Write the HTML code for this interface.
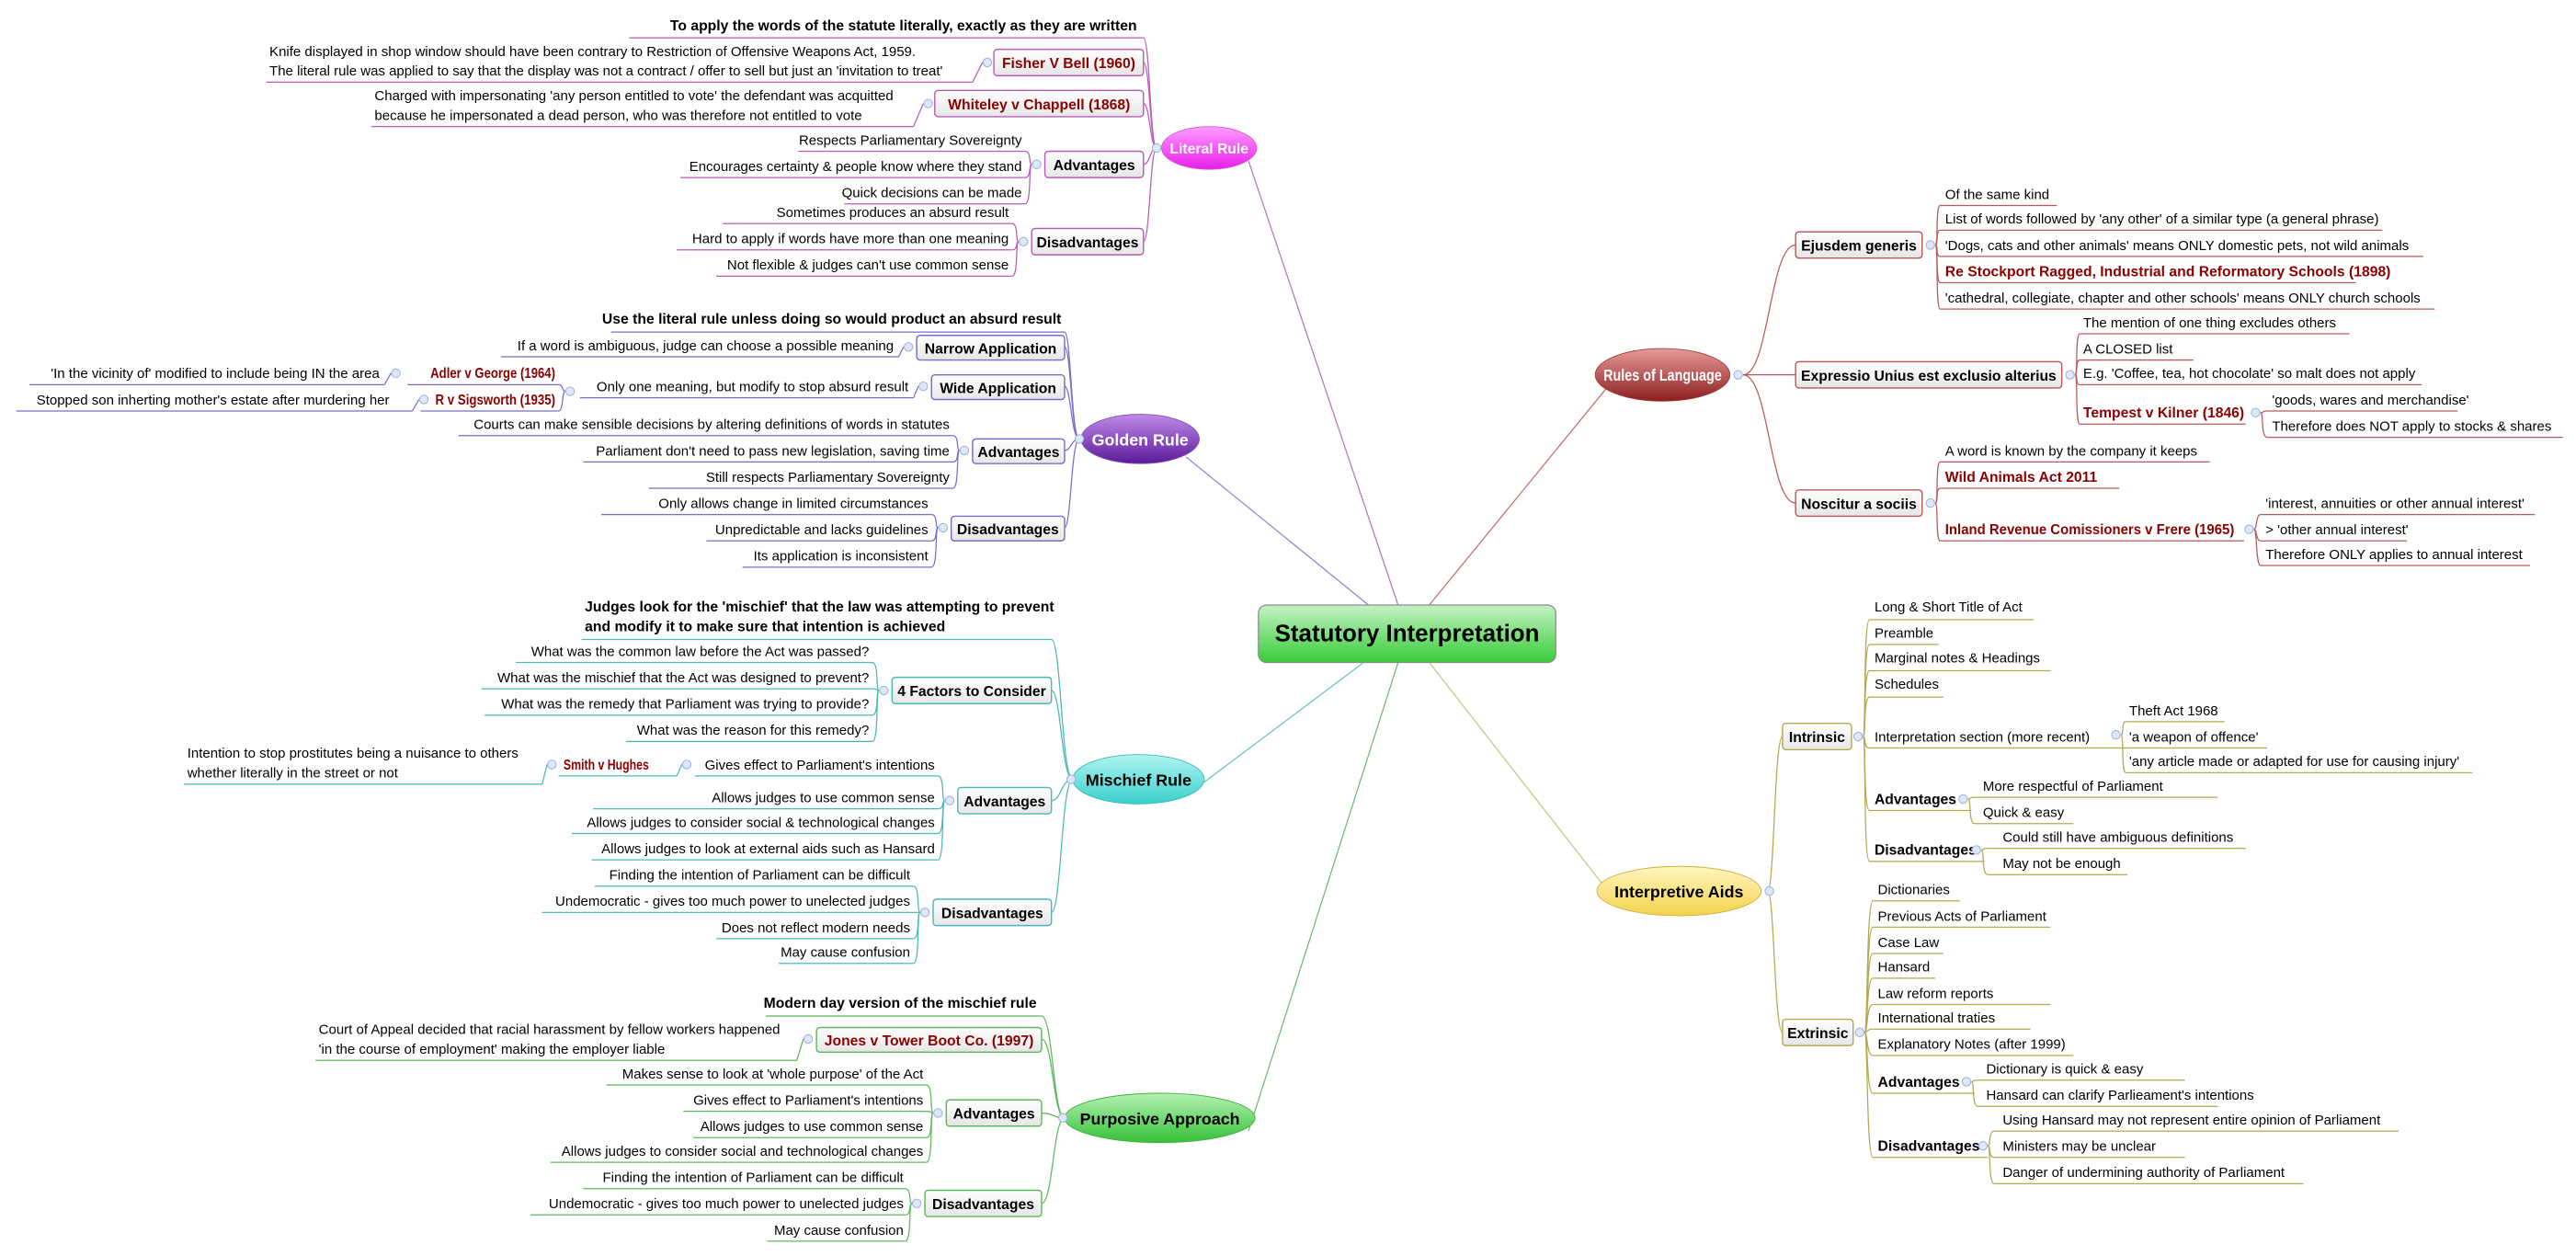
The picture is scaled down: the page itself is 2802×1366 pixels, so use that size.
<!DOCTYPE html>
<html><head><meta charset="utf-8"><style>
html,body{margin:0;padding:0;background:#fff;}
svg{display:block}
text{font-family:"Liberation Sans",sans-serif;font-size:8.4px;fill:#000}
.b{font-weight:bold;font-size:8.8px}
.r{font-weight:bold;font-size:8.8px;fill:#8b0000}
.bx{fill:url(#gb);stroke-width:0.8}
.c{fill:#dfe8f8;stroke:#9fb4dc;stroke-width:0.6}
path,line{fill:none;stroke-width:0.7}
.L path,.L line,.L .bx{stroke:#b85cb8}
.G path,.G line,.G .bx{stroke:#7a6cc8}
.M path,.M line,.M .bx{stroke:#4bb8b8}
.P path,.P line,.P .bx{stroke:#5cb85c}
.R path,.R line,.R .bx{stroke:#b85a5a}
.A path,.A line,.A .bx{stroke:#b0aa50}
</style></head><body>
<svg width="2802" height="1366" viewBox="0 0 1568 764" preserveAspectRatio="none" xmlns="http://www.w3.org/2000/svg">
<defs>
<linearGradient id="gb" x1="0" y1="0" x2="0" y2="1"><stop offset="0" stop-color="#ffffff"/><stop offset="1" stop-color="#e6e6e6"/></linearGradient>
<linearGradient id="gc" x1="0" y1="0" x2="0" y2="1"><stop offset="0" stop-color="#c4f2c4"/><stop offset="1" stop-color="#38cc38"/></linearGradient>
<linearGradient id="gL" x1="0" y1="0" x2="0" y2="1"><stop offset="0" stop-color="#ff9cff"/><stop offset="1" stop-color="#e81ee8"/></linearGradient>
<linearGradient id="gG" x1="0" y1="0" x2="0" y2="1"><stop offset="0" stop-color="#c08ae8"/><stop offset="1" stop-color="#5a1a9a"/></linearGradient>
<linearGradient id="gM" x1="0" y1="0" x2="0" y2="1"><stop offset="0" stop-color="#b0f4f0"/><stop offset="1" stop-color="#3ad0cc"/></linearGradient>
<linearGradient id="gP" x1="0" y1="0" x2="0" y2="1"><stop offset="0" stop-color="#b4f2b4"/><stop offset="1" stop-color="#36c036"/></linearGradient>
<linearGradient id="gR" x1="0" y1="0" x2="0" y2="1"><stop offset="0" stop-color="#e89a9a"/><stop offset="1" stop-color="#8c1e1e"/></linearGradient>
<linearGradient id="gA" x1="0" y1="0" x2="0" y2="1"><stop offset="0" stop-color="#fff6c0"/><stop offset="1" stop-color="#f2d24a"/></linearGradient>
</defs>

<line x1="851" y1="368" x2="760" y2="98" stroke="#c070c0" stroke-width="0.7"/>
<line x1="833" y1="368" x2="722" y2="278" stroke="#8c84d4" stroke-width="0.7"/>
<line x1="830" y1="403" x2="730" y2="478" stroke="#6cc4c4" stroke-width="0.7"/>
<line x1="851" y1="403" x2="760" y2="688" stroke="#6cbc6c" stroke-width="0.7"/>
<line x1="870" y1="368" x2="978" y2="236" stroke="#c07070" stroke-width="0.7"/>
<line x1="870" y1="403" x2="985" y2="550" stroke="#c8c488" stroke-width="0.7"/>

<rect x="766" y="368" width="181" height="35" rx="5" fill="url(#gc)" stroke="#8a8a8a" stroke-width="0.7"/>
<text x="856.5" y="390" text-anchor="middle" style="font-weight:bold;font-size:14.5px">Statutory Interpretation</text>

<!-- LITERAL -->
<g class="L">
<path d="M704 90 C700 90 700 23 696 23"/>
<path d="M704 90 C700 90 700 38 696 38"/>
<path d="M704 90 C700 90 700 63 696 63"/>
<path d="M704 90 C700 90 700 100 696 100"/>
<path d="M704 90 C700 90 700 147 696 147"/>
<ellipse cx="736" cy="90" rx="29" ry="13" fill="url(#gL)" stroke="#d060d0" stroke-width="0.5"/>
<text x="736" y="93.5" text-anchor="middle" class="b" style="fill:#fff">Literal Rule</text>
<circle class="c" cx="704" cy="90" r="2.6"/>
<text x="692" y="18.5" text-anchor="end" class="b">To apply the words of the statute literally, exactly as they are written</text>
<line x1="383" y1="23" x2="696" y2="23"/>
<rect class="bx" x="605" y="30" width="91" height="16" rx="2"/>
<text x="650.5" y="41.5" text-anchor="middle" class="r">Fisher V Bell (1960)</text>
<circle class="c" cx="601" cy="38" r="2.6"/>
<text x="164" y="34">Knife displayed in shop window should have been contrary to Restriction of Offensive Weapons Act, 1959.</text>
<text x="164" y="46">The literal rule was applied to say that the display was not a contract / offer to sell but just an 'invitation to treat'</text>
<line x1="162" y1="50" x2="592" y2="50"/><path d="M592 50 L598 38"/>
<rect class="bx" x="569" y="55" width="127" height="16" rx="2"/>
<text x="632.5" y="66.5" text-anchor="middle" class="r">Whiteley v Chappell (1868)</text>
<circle class="c" cx="565" cy="63" r="2.6"/>
<text x="228" y="61">Charged with impersonating 'any person entitled to vote' the defendant was acquitted</text>
<text x="228" y="73">because he impersonated a dead person, who was therefore not entitled to vote</text>
<line x1="226" y1="77" x2="556" y2="77"/><path d="M556 77 L562 63"/>
<rect class="bx" x="636" y="92" width="60" height="16" rx="2"/>
<text x="666" y="103.5" text-anchor="middle" class="b">Advantages</text>
<circle class="c" cx="631" cy="100" r="2.6"/>
<path d="M628 100 C626 100 628 92 624 92"/><path d="M628 100 C626 100 628 108 624 108"/><path d="M628 100 C626 100 628 124 624 124"/>
<text x="622" y="88" text-anchor="end">Respects Parliamentary Sovereignty</text><line x1="486" y1="92" x2="624" y2="92"/>
<text x="622" y="104" text-anchor="end">Encourages certainty &amp; people know where they stand</text><line x1="414" y1="108" x2="624" y2="108"/>
<text x="622" y="120" text-anchor="end">Quick decisions can be made</text><line x1="514" y1="124" x2="624" y2="124"/>
<rect class="bx" x="628" y="139" width="68" height="16" rx="2"/>
<text x="662" y="150.5" text-anchor="middle" class="b">Disadvantages</text>
<circle class="c" cx="623" cy="147" r="2.6"/>
<path d="M620 147 C618 147 620 136 616 136"/><path d="M620 147 C618 147 620 152 616 152"/><path d="M620 147 C618 147 620 168 616 168"/>
<text x="614" y="132" text-anchor="end">Sometimes produces an absurd result</text><line x1="440" y1="136" x2="616" y2="136"/>
<text x="614" y="148" text-anchor="end">Hard to apply if words have more than one meaning</text><line x1="412" y1="152" x2="616" y2="152"/>
<text x="614" y="164" text-anchor="end">Not flexible &amp; judges can't use common sense</text><line x1="436" y1="168" x2="616" y2="168"/>
</g>

<!-- GOLDEN -->
<g class="G">
<path d="M657 267 C652 267 652 202 648 202"/>
<path d="M657 267 C652 267 652 211 648 211"/>
<path d="M657 267 C652 267 652 235 648 235"/>
<path d="M657 267 C652 267 652 274 648 274"/>
<path d="M657 267 C652 267 652 321 648 321"/>
<ellipse cx="694" cy="267" rx="36" ry="15" fill="url(#gG)" stroke="#8050b0" stroke-width="0.5"/>
<text x="694" y="271" text-anchor="middle" class="b" style="fill:#fff;font-size:10px">Golden Rule</text>
<circle class="c" cx="657" cy="267" r="2.6"/>
<text x="646" y="197" text-anchor="end" class="b">Use the literal rule unless doing so would product an absurd result</text>
<line x1="372" y1="202" x2="648" y2="202"/>
<rect class="bx" x="558" y="204" width="90" height="15" rx="2"/>
<text x="603" y="215" text-anchor="middle" class="b">Narrow Application</text>
<circle class="c" cx="553" cy="211" r="2.6"/>
<text x="544" y="213" text-anchor="end">If a word is ambiguous, judge can choose a possible meaning</text>
<line x1="305" y1="217" x2="547" y2="217"/><path d="M547 217 L550 211"/>
<rect class="bx" x="567" y="228" width="81" height="15" rx="2"/>
<text x="607.5" y="239" text-anchor="middle" class="b">Wide Application</text>
<circle class="c" cx="562" cy="235" r="2.6"/>
<text x="553" y="238" text-anchor="end">Only one meaning, but modify to stop absurd result</text>
<line x1="353" y1="242" x2="556" y2="242"/><path d="M556 242 L559 235"/>
<circle class="c" cx="347" cy="238" r="2.6"/>
<path d="M344 238 C342 238 343 234 340 234"/><path d="M344 238 C342 238 343 250 340 250"/>
<text x="262" y="230" class="r" textLength="76" lengthAdjust="spacingAndGlyphs">Adler v George (1964)</text><line x1="248" y1="234" x2="340" y2="234"/>
<circle class="c" cx="241" cy="227" r="2.6"/>
<text x="231" y="230" text-anchor="end">'In the vicinity of' modified to include being IN the area</text>
<line x1="18" y1="234" x2="234" y2="234"/><path d="M234 234 L238 227"/>
<text x="265" y="246" class="r" textLength="73" lengthAdjust="spacingAndGlyphs">R v Sigsworth (1935)</text><line x1="256" y1="250" x2="340" y2="250"/>
<circle class="c" cx="258" cy="243" r="2.6"/>
<text x="237" y="246" text-anchor="end">Stopped son inherting mother's estate after murdering her</text>
<line x1="10" y1="250" x2="251" y2="250"/><path d="M251 250 L255 243"/>
<rect class="bx" x="592" y="267" width="56" height="15" rx="2"/>
<text x="620" y="278" text-anchor="middle" class="b">Advantages</text>
<circle class="c" cx="587" cy="274" r="2.6"/>
<path d="M584 274 C582 274 584 265 580 265"/><path d="M584 274 C582 274 584 281 580 281"/><path d="M584 274 C582 274 584 297 580 297"/>
<text x="578" y="261" text-anchor="end">Courts can make sensible decisions by altering definitions of words in statutes</text><line x1="279" y1="265" x2="580" y2="265"/>
<text x="578" y="277" text-anchor="end">Parliament don't need to pass new legislation, saving time</text><line x1="355" y1="281" x2="580" y2="281"/>
<text x="578" y="293" text-anchor="end">Still respects Parliamentary Sovereignty</text><line x1="395" y1="297" x2="580" y2="297"/>
<rect class="bx" x="579" y="314" width="69" height="15" rx="2"/>
<text x="613.5" y="325" text-anchor="middle" class="b">Disadvantages</text>
<circle class="c" cx="574" cy="321" r="2.6"/>
<path d="M571 321 C569 321 571 313 567 313"/><path d="M571 321 C569 321 571 329 567 329"/><path d="M571 321 C569 321 571 345 567 345"/>
<text x="565" y="309" text-anchor="end">Only allows change in limited circumstances</text><line x1="366" y1="313" x2="567" y2="313"/>
<text x="565" y="325" text-anchor="end">Unpredictable and lacks guidelines</text><line x1="430" y1="329" x2="567" y2="329"/>
<text x="565" y="341" text-anchor="end">Its application is inconsistent</text><line x1="452" y1="345" x2="567" y2="345"/>
</g>

<!-- MISCHIEF -->
<g class="M">
<path d="M653 474 C646 474 646 389 640 389"/>
<path d="M653 474 C646 474 646 420 640 420"/>
<path d="M653 474 C646 474 646 487 640 487"/>
<path d="M653 474 C646 474 646 555 640 555"/>
<ellipse cx="693" cy="474" rx="40" ry="15" fill="url(#gM)" stroke="#40b8b8" stroke-width="0.5"/>
<text x="693" y="478" text-anchor="middle" class="b" style="font-size:10px">Mischief Rule</text>
<circle class="c" cx="652" cy="474" r="2.6"/>
<text x="356" y="372" class="b">Judges look for the 'mischief' that the law was attempting to prevent</text>
<text x="356" y="384" class="b">and modify it to make sure that intention is achieved</text>
<line x1="354" y1="389" x2="640" y2="389"/>
<rect class="bx" x="543" y="412" width="97" height="16" rx="2"/>
<text x="591.5" y="423.5" text-anchor="middle" class="b">4 Factors to Consider</text>
<circle class="c" cx="538" cy="420" r="2.6"/>
<path d="M535 420 C533 420 535 403 531 403"/><path d="M535 420 C533 420 535 419 531 419"/><path d="M535 420 C533 420 535 435 531 435"/><path d="M535 420 C533 420 535 451 531 451"/>
<text x="529" y="399" text-anchor="end">What was the common law before the Act was passed?</text><line x1="314" y1="403" x2="531" y2="403"/>
<text x="529" y="415" text-anchor="end">What was the mischief that the Act was designed to prevent?</text><line x1="293" y1="419" x2="531" y2="419"/>
<text x="529" y="431" text-anchor="end">What was the remedy that Parliament was trying to provide?</text><line x1="295" y1="435" x2="531" y2="435"/>
<text x="529" y="447" text-anchor="end">What was the reason for this remedy?</text><line x1="381" y1="451" x2="531" y2="451"/>
<rect class="bx" x="583" y="479" width="57" height="16" rx="2"/>
<text x="611.5" y="490.5" text-anchor="middle" class="b">Advantages</text>
<circle class="c" cx="578" cy="487" r="2.6"/>
<path d="M575 487 C573 487 575 472 571 472"/><path d="M575 487 C573 487 575 492 571 492"/><path d="M575 487 C573 487 575 507 571 507"/><path d="M575 487 C573 487 575 523 571 523"/>
<text x="569" y="468" text-anchor="end">Gives effect to Parliament's intentions</text><line x1="423" y1="472" x2="571" y2="472"/>
<circle class="c" cx="418" cy="465" r="2.6"/><path d="M415 465 L412 472"/>
<text x="343" y="468" class="r" textLength="52" lengthAdjust="spacingAndGlyphs">Smith v Hughes</text><line x1="340" y1="472" x2="412" y2="472"/>
<circle class="c" cx="336" cy="465" r="2.6"/><path d="M333 465 L330 477"/>
<text x="114" y="461">Intention to stop prostitutes being a nuisance to others</text>
<text x="114" y="473">whether literally in the street or not</text>
<line x1="112" y1="477" x2="330" y2="477"/>
<text x="569" y="488" text-anchor="end">Allows judges to use common sense</text><line x1="361" y1="492" x2="571" y2="492"/>
<text x="569" y="503" text-anchor="end">Allows judges to consider social &amp; technological changes</text><line x1="348" y1="507" x2="571" y2="507"/>
<text x="569" y="519" text-anchor="end">Allows judges to look at external aids such as Hansard</text><line x1="360" y1="523" x2="571" y2="523"/>
<rect class="bx" x="568" y="547" width="72" height="16" rx="2"/>
<text x="604" y="558.5" text-anchor="middle" class="b">Disadvantages</text>
<circle class="c" cx="563" cy="555" r="2.6"/>
<path d="M560 555 C558 555 560 539 556 539"/><path d="M560 555 C558 555 560 555 556 555"/><path d="M560 555 C558 555 560 571 556 571"/><path d="M560 555 C558 555 560 586 556 586"/>
<text x="554" y="535" text-anchor="end">Finding the intention of Parliament can be difficult</text><line x1="362" y1="539" x2="556" y2="539"/>
<text x="554" y="551" text-anchor="end">Undemocratic - gives too much power to unelected judges</text><line x1="330" y1="555" x2="556" y2="555"/>
<text x="554" y="567" text-anchor="end">Does not reflect modern needs</text><line x1="436" y1="571" x2="556" y2="571"/>
<text x="554" y="582" text-anchor="end">May cause confusion</text><line x1="474" y1="586" x2="556" y2="586"/>
</g>

<!-- PURPOSIVE -->
<g class="P">
<path d="M648 680 C641 680 641 618 634 618"/>
<path d="M648 680 C641 680 641 632 634 632"/>
<path d="M648 680 C641 680 641 677 634 677"/>
<path d="M648 680 C641 680 641 732 634 732"/>
<ellipse cx="706" cy="680" rx="58" ry="15" fill="url(#gP)" stroke="#40b040" stroke-width="0.5"/>
<text x="706" y="684" text-anchor="middle" class="b" style="font-size:10px">Purposive Approach</text>
<circle class="c" cx="647" cy="680" r="2.6"/>
<text x="631" y="613" text-anchor="end" class="b">Modern day version of the mischief rule</text>
<line x1="466" y1="618" x2="634" y2="618"/>
<rect class="bx" x="497" y="625" width="137" height="15" rx="2"/>
<text x="565.5" y="636" text-anchor="middle" class="r">Jones v Tower Boot Co. (1997)</text>
<circle class="c" cx="492" cy="632" r="2.6"/>
<text x="194" y="629">Court of Appeal decided that racial harassment by fellow workers happened</text>
<text x="194" y="641">'in the course of employment' making the employer liable</text>
<line x1="192" y1="645" x2="485" y2="645"/><path d="M485 645 L489 632"/>
<rect class="bx" x="576" y="669" width="58" height="16" rx="2"/>
<text x="605" y="680.5" text-anchor="middle" class="b">Advantages</text>
<circle class="c" cx="571" cy="677" r="2.6"/>
<path d="M568 677 C566 677 568 660 564 660"/><path d="M568 677 C566 677 568 676 564 676"/><path d="M568 677 C566 677 568 692 564 692"/><path d="M568 677 C566 677 568 707 564 707"/>
<text x="562" y="656" text-anchor="end">Makes sense to look at 'whole purpose' of the Act</text><line x1="369" y1="660" x2="564" y2="660"/>
<text x="562" y="672" text-anchor="end">Gives effect to Parliament's intentions</text><line x1="416" y1="676" x2="564" y2="676"/>
<text x="562" y="688" text-anchor="end">Allows judges to use common sense</text><line x1="422" y1="692" x2="564" y2="692"/>
<text x="562" y="703" text-anchor="end">Allows judges to consider social and technological changes</text><line x1="335" y1="707" x2="564" y2="707"/>
<rect class="bx" x="563" y="724" width="71" height="16" rx="2"/>
<text x="598.5" y="735.5" text-anchor="middle" class="b">Disadvantages</text>
<circle class="c" cx="558" cy="732" r="2.6"/>
<path d="M555 732 C553 732 555 723 551 723"/><path d="M555 732 C553 732 555 739 551 739"/><path d="M555 732 C553 732 555 755 551 755"/>
<text x="550" y="719" text-anchor="end">Finding the intention of Parliament can be difficult</text><line x1="355" y1="723" x2="551" y2="723"/>
<text x="550" y="735" text-anchor="end">Undemocratic - gives too much power to unelected judges</text><line x1="323" y1="739" x2="551" y2="739"/>
<text x="550" y="751" text-anchor="end">May cause confusion</text><line x1="467" y1="755" x2="551" y2="755"/>
</g>

<!-- RULES OF LANGUAGE -->
<g class="R">
<path d="M1061 228 C1077 228 1077 149 1093 149"/>
<path d="M1061 228 L1093 228"/>
<path d="M1061 228 C1077 228 1077 306 1093 306"/>
<ellipse cx="1012" cy="228" rx="41" ry="16" fill="url(#gR)" stroke="#a04040" stroke-width="0.5"/>
<text x="1012" y="231.5" text-anchor="middle" class="b" style="fill:#fff;font-size:10px" textLength="72" lengthAdjust="spacingAndGlyphs">Rules of Language</text>
<circle class="c" cx="1058" cy="228" r="2.6"/>
<rect class="bx" x="1093" y="141" width="77" height="16" rx="2"/>
<text x="1131.5" y="152.5" text-anchor="middle" class="b">Ejusdem generis</text>
<circle class="c" cx="1175" cy="149" r="2.6"/>
<path d="M1178 149 C1180 149 1178 125 1181 125"/><path d="M1178 149 C1180 149 1178 140 1181 140"/><path d="M1178 149 C1180 149 1178 156 1181 156"/><path d="M1178 149 C1180 149 1178 172 1181 172"/><path d="M1178 149 C1180 149 1178 188 1181 188"/>
<text x="1184" y="121">Of the same kind</text><line x1="1181" y1="125" x2="1252" y2="125"/>
<text x="1184" y="136">List of words followed by 'any other' of a similar type (a general phrase)</text><line x1="1181" y1="140" x2="1450" y2="140"/>
<text x="1184" y="152">'Dogs, cats and other animals' means ONLY domestic pets, not wild animals</text><line x1="1181" y1="156" x2="1475" y2="156"/>
<text x="1184" y="168" class="r">Re Stockport Ragged, Industrial and Reformatory Schools (1898)</text><line x1="1181" y1="172" x2="1434" y2="172"/>
<text x="1184" y="184">'cathedral, collegiate, chapter and other schools' means ONLY church schools</text><line x1="1181" y1="188" x2="1482" y2="188"/>
<rect class="bx" x="1093" y="220" width="162" height="16" rx="2"/>
<text x="1174" y="231.5" text-anchor="middle" class="b">Expressio Unius est exclusio alterius</text>
<circle class="c" cx="1260" cy="228" r="2.6"/>
<path d="M1263 228 C1265 228 1263 203 1266 203"/><path d="M1263 228 C1265 228 1263 219 1266 219"/><path d="M1263 228 C1265 228 1263 234 1266 234"/><path d="M1263 228 C1265 228 1263 258 1266 258"/>
<text x="1268" y="199">The mention of one thing excludes others</text><line x1="1266" y1="203" x2="1430" y2="203"/>
<text x="1268" y="215">A CLOSED list</text><line x1="1266" y1="219" x2="1335" y2="219"/>
<text x="1268" y="230">E.g. 'Coffee, tea, hot chocolate' so malt does not apply</text><line x1="1266" y1="234" x2="1474" y2="234"/>
<text x="1268" y="254" class="r">Tempest v Kilner (1846)</text><line x1="1266" y1="258" x2="1367" y2="258"/>
<circle class="c" cx="1373" cy="251" r="2.6"/>
<path d="M1376 251 C1378 251 1377 250 1380 250"/><path d="M1376 251 C1378 251 1376 266 1380 266"/>
<text x="1383" y="246">'goods, wares and merchandise'</text><line x1="1380" y1="250" x2="1496" y2="250"/>
<text x="1383" y="262">Therefore does NOT apply to stocks &amp; shares</text><line x1="1380" y1="266" x2="1560" y2="266"/>
<rect class="bx" x="1093" y="298" width="77" height="16" rx="2"/>
<text x="1131.5" y="309.5" text-anchor="middle" class="b">Noscitur a sociis</text>
<circle class="c" cx="1175" cy="306" r="2.6"/>
<path d="M1178 306 C1180 306 1178 281 1181 281"/><path d="M1178 306 C1180 306 1178 297 1181 297"/><path d="M1178 306 C1180 306 1178 329 1181 329"/>
<text x="1184" y="277">A word is known by the company it keeps</text><line x1="1181" y1="281" x2="1345" y2="281"/>
<text x="1184" y="293" class="r">Wild Animals Act 2011</text><line x1="1181" y1="297" x2="1290" y2="297"/>
<text x="1184" y="325" class="r" textLength="176" lengthAdjust="spacingAndGlyphs">Inland Revenue Comissioners v Frere (1965)</text><line x1="1181" y1="329" x2="1366" y2="329"/>
<circle class="c" cx="1369" cy="322" r="2.6"/>
<path d="M1372 322 C1374 322 1373 313 1376 313"/><path d="M1372 322 C1374 322 1373 329 1376 329"/><path d="M1372 322 C1374 322 1373 344 1376 344"/>
<text x="1379" y="309">'interest, annuities or other annual interest'</text><line x1="1376" y1="313" x2="1543" y2="313"/>
<text x="1379" y="325">&gt; 'other annual interest'</text><line x1="1376" y1="329" x2="1465" y2="329"/>
<text x="1379" y="340">Therefore ONLY applies to annual interest</text><line x1="1376" y1="344" x2="1540" y2="344"/>
</g>

<!-- INTERPRETIVE AIDS -->
<g class="A">
<path d="M1076 542 C1080 542 1080 448 1085 448"/>
<path d="M1076 542 C1080 542 1080 628 1085 628"/>
<ellipse cx="1022" cy="542" rx="50" ry="15" fill="url(#gA)" stroke="#d0b040" stroke-width="0.5"/>
<text x="1022" y="546" text-anchor="middle" class="b" style="font-size:10px">Interpretive Aids</text>
<circle class="c" cx="1077" cy="542" r="2.6"/>
<rect class="bx" x="1085" y="440" width="42" height="16" rx="2"/>
<text x="1106" y="451.5" text-anchor="middle" class="b">Intrinsic</text>
<circle class="c" cx="1131" cy="448" r="2.6"/>
<path d="M1134 448 C1136 448 1134 377 1138 377"/><path d="M1134 448 C1136 448 1134 392 1138 392"/><path d="M1134 448 C1136 448 1134 408 1138 408"/><path d="M1134 448 C1136 448 1134 424 1138 424"/><path d="M1134 448 C1136 448 1134 455 1138 455"/><path d="M1134 448 C1136 448 1134 493 1138 493"/><path d="M1134 448 C1136 448 1134 524 1138 524"/>
<text x="1141" y="372">Long &amp; Short Title of Act</text><line x1="1138" y1="377" x2="1238" y2="377"/>
<text x="1141" y="388">Preamble</text><line x1="1138" y1="392" x2="1180" y2="392"/>
<text x="1141" y="403">Marginal notes &amp; Headings</text><line x1="1138" y1="408" x2="1248" y2="408"/>
<text x="1141" y="419">Schedules</text><line x1="1138" y1="424" x2="1183" y2="424"/>
<text x="1141" y="451">Interpretation section (more recent)</text><line x1="1138" y1="455" x2="1292" y2="455"/>
<circle class="c" cx="1288" cy="447" r="2.6"/>
<path d="M1291 447 C1293 447 1291 439 1294 439"/><path d="M1292 455 L1294 455"/><path d="M1291 447 C1293 447 1291 470 1294 470"/>
<text x="1296" y="435">Theft Act 1968</text><line x1="1294" y1="439" x2="1354" y2="439"/>
<text x="1296" y="451">'a weapon of offence'</text><line x1="1292" y1="455" x2="1380" y2="455"/>
<text x="1296" y="466">'any article made or adapted for use for causing injury'</text><line x1="1294" y1="470" x2="1505" y2="470"/>
<text x="1141" y="489" class="b">Advantages</text><line x1="1138" y1="493" x2="1200" y2="493"/>
<circle class="c" cx="1195" cy="486" r="2.6"/>
<path d="M1198 486 C1200 486 1198 485 1202 485"/><path d="M1198 486 C1200 486 1198 501 1202 501"/>
<text x="1207" y="481">More respectful of Parliament</text><line x1="1202" y1="485" x2="1350" y2="485"/>
<text x="1207" y="497">Quick &amp; easy</text><line x1="1202" y1="501" x2="1262" y2="501"/>
<text x="1141" y="520" class="b">Disadvantages</text><line x1="1138" y1="524" x2="1208" y2="524"/>
<circle class="c" cx="1203" cy="517" r="2.6"/>
<path d="M1206 517 C1208 517 1206 516 1210 516"/><path d="M1206 517 C1208 517 1206 532 1210 532"/>
<text x="1219" y="512">Could still have ambiguous definitions</text><line x1="1210" y1="516" x2="1367" y2="516"/>
<text x="1219" y="528">May not be enough</text><line x1="1210" y1="532" x2="1295" y2="532"/>

<rect class="bx" x="1085" y="620" width="43" height="16" rx="2"/>
<text x="1106.5" y="631.5" text-anchor="middle" class="b">Extrinsic</text>
<circle class="c" cx="1132" cy="628" r="2.6"/>
<path d="M1135 628 C1137 628 1136 548 1140 548"/><path d="M1135 628 C1137 628 1136 564 1140 564"/><path d="M1135 628 C1137 628 1136 580 1140 580"/><path d="M1135 628 C1137 628 1136 595 1140 595"/><path d="M1135 628 C1137 628 1136 611 1140 611"/><path d="M1135 628 C1137 628 1136 626 1140 626"/><path d="M1135 628 C1137 628 1136 642 1140 642"/><path d="M1135 628 C1137 628 1136 665 1140 665"/><path d="M1135 628 C1137 628 1136 704 1140 704"/>
<text x="1143" y="544">Dictionaries</text><line x1="1140" y1="548" x2="1193" y2="548"/>
<text x="1143" y="560">Previous Acts of Parliament</text><line x1="1140" y1="564" x2="1248" y2="564"/>
<text x="1143" y="576">Case Law</text><line x1="1140" y1="580" x2="1183" y2="580"/>
<text x="1143" y="591">Hansard</text><line x1="1140" y1="595" x2="1178" y2="595"/>
<text x="1143" y="607">Law reform reports</text><line x1="1140" y1="611" x2="1248" y2="611"/>
<text x="1143" y="622">International traties</text><line x1="1140" y1="626" x2="1236" y2="626"/>
<text x="1143" y="638">Explanatory Notes (after 1999)</text><line x1="1140" y1="642" x2="1262" y2="642"/>
<text x="1143" y="661" class="b">Advantages</text><line x1="1140" y1="665" x2="1202" y2="665"/>
<circle class="c" cx="1197" cy="658" r="2.6"/>
<path d="M1200 658 C1202 658 1200 657 1204 657"/><path d="M1200 658 C1202 658 1200 673 1204 673"/>
<text x="1209" y="653">Dictionary is quick &amp; easy</text><line x1="1204" y1="657" x2="1330" y2="657"/>
<text x="1209" y="669">Hansard can clarify Parlieament's intentions</text><line x1="1204" y1="673" x2="1350" y2="673"/>
<text x="1143" y="700" class="b">Disadvantages</text><line x1="1140" y1="704" x2="1210" y2="704"/>
<circle class="c" cx="1207" cy="697" r="2.6"/>
<path d="M1210 697 C1212 697 1210 688 1214 688"/><path d="M1210 697 C1212 697 1210 704 1214 704"/><path d="M1210 697 C1212 697 1210 720 1214 720"/>
<text x="1219" y="684">Using Hansard may not represent entire opinion of Parliament</text><line x1="1214" y1="688" x2="1460" y2="688"/>
<text x="1219" y="700">Ministers may be unclear</text><line x1="1214" y1="704" x2="1330" y2="704"/>
<text x="1219" y="716">Danger of undermining authority of Parliament</text><line x1="1214" y1="720" x2="1402" y2="720"/>
</g>
</svg>
</body></html>
